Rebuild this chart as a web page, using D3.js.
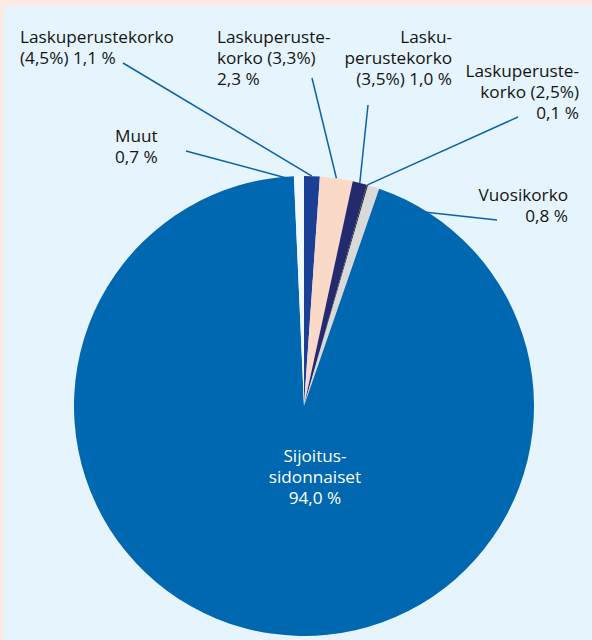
<!DOCTYPE html>
<html>
<head>
<meta charset="utf-8">
<script src="https://cdn.jsdelivr.net/npm/d3@7"></script>
<style>
  html, body { margin: 0; padding: 0; background: #fde9e5; }
  svg { display: block; }
  text { font-family: "Open Sans", "Noto Sans", sans-serif; }
</style>
</head>
<body>
<svg id="chart" width="592" height="640"></svg>
<script>
// ---- Data ----
const categories = [
  "Laskuperustekorko (4,5%)",
  "Laskuperustekorko (3,3%)",
  "Laskuperustekorko (3,5%)",
  "Laskuperustekorko (2,5%)",
  "Vuosikorko",
  "Sijoitussidonnaiset",
  "Muut"
];
const values = [1.1, 2.3, 1.0, 0.1, 0.8, 94.0, 0.7];
// label text lines (the value is appended to the final line)
const labelText = [
  ["Laskuperustekorko", "(4,5%) "],
  ["Laskuperuste-", "korko (3,3%)", ""],
  ["Lasku-", "perustekorko", "(3,5%) "],
  ["Laskuperuste-", "korko (2,5%)", ""],
  ["Vuosikorko", ""],
  ["Sijoitus-", "sidonnaiset", ""],
  ["Muut", ""]
];

// ---- Styles / layout ----
const colors = ["#1b3f94", "#fad9c9", "#232a6e", "#3a3a3a", "#d9d9d9", "#0067b1", "#f0f8ff"];
const labelLayout = [
  { x: 20,  y: 43,  anchor: "start",  from: [123, 63] },
  { x: 217, y: 43,  anchor: "start",  from: [312, 78] },
  { x: 452, y: 43,  anchor: "end",    from: [368, 105] },
  { x: 579, y: 77,  anchor: "end",    from: [518, 117] },
  { x: 568, y: 201, anchor: "end",    from: [497, 220], tipAngle: 24, tipR: 0.94 },
  { x: 315, y: 462, anchor: "middle", fill: "#ffffff" },
  { x: 115, y: 142, anchor: "start",  from: [186, 151], tipAngle: -2.8, tipR: 0.985 }
];
const W = 592, H = 640;
const cx = 304, cy = 406, R = 230;
const lineH = 21;

const fmt = v => d3.format(".1f")(v).replace(".", ",") + " %";

const svg = d3.select("#chart");
svg.append("rect").attr("x", 0).attr("y", 0).attr("width", W).attr("height", H).attr("fill", "#fde9e5");
svg.append("rect").attr("x", 4).attr("y", 6).attr("width", W - 4).attr("height", H - 6).attr("fill", "#e5f4fd");

const pie = d3.pie().sort(null).value(d => d).startAngle(0).endAngle(2 * Math.PI);
const arcs = pie(values);
const arc = d3.arc().innerRadius(0).outerRadius(R);

const g = svg.append("g").attr("transform", `translate(${cx},${cy})`);
g.selectAll("path.slice")
  .data(arcs)
  .join("path")
  .attr("class", "slice")
  .attr("d", arc)
  .attr("fill", (d, i) => colors[i]);

// leader lines
const lineColor = "#0a62ad";
arcs.forEach((d, i) => {
  const L = labelLayout[i];
  if (!L.from) return;
  const ang = L.tipAngle !== undefined ? L.tipAngle * Math.PI / 180 : (d.startAngle + d.endAngle) / 2;
  const rr = R * (L.tipR !== undefined ? L.tipR : 1);
  const tx = cx + rr * Math.sin(ang);
  const ty = cy - rr * Math.cos(ang);
  svg.append("line")
    .attr("x1", L.from[0]).attr("y1", L.from[1])
    .attr("x2", tx).attr("y2", ty)
    .attr("stroke", lineColor)
    .attr("stroke-width", 1.5);
});

// labels
arcs.forEach((d, i) => {
  const L = labelLayout[i];
  const lines = labelText[i].slice();
  lines[lines.length - 1] = lines[lines.length - 1] + fmt(values[i]);
  const t = svg.append("text")
    .attr("x", L.x).attr("y", L.y)
    .attr("text-anchor", L.anchor)
    .attr("fill", L.fill || "#141414")
    .attr("font-size", "17.2px");
  lines.forEach((s, k) => {
    t.append("tspan").attr("x", L.x).attr("y", L.y + k * lineH).text(s);
  });
});
</script>
</body>
</html>
